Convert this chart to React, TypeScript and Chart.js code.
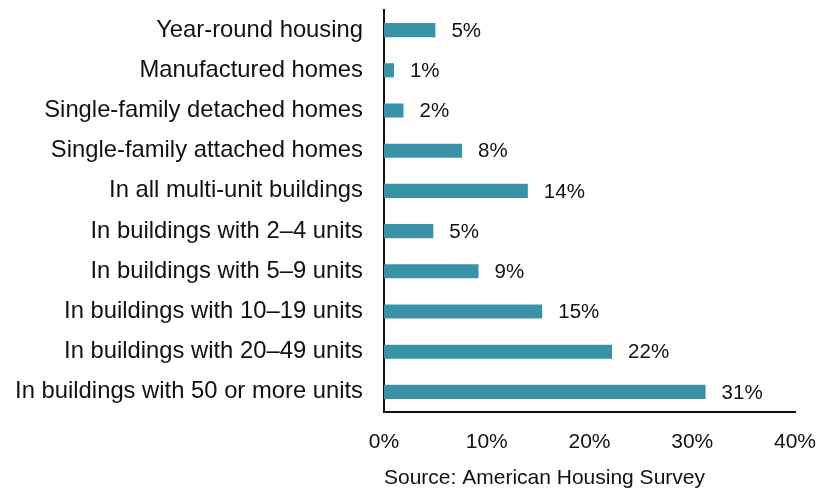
import React, { useEffect, useRef } from "react";
import { Chart, registerables } from "chart.js";

Chart.register(...registerables);

const categories = [
  "Year-round housing",
  "Manufactured homes",
  "Single-family detached homes",
  "Single-family attached homes",
  "In all multi-unit buildings",
  "In buildings with 2–4 units",
  "In buildings with 5–9 units",
  "In buildings with 10–19 units",
  "In buildings with 20–49 units",
  "In buildings with 50 or more units",
];

const values = [5.0, 0.97, 1.9, 7.6, 14.0, 4.8, 9.2, 15.4, 22.2, 31.3];
const valueLabels = ["5%", "1%", "2%", "8%", "14%", "5%", "9%", "15%", "22%", "31%"];
const xTicks = [0, 10, 20, 30, 40];
const sourceText = "Source: American Housing Survey";

const FONT = "'Liberation Sans', Arial, Helvetica, sans-serif";

const valueLabelPlugin = {
  id: "valueLabels",
  afterDatasetsDraw(chart: any) {
    const ctx = chart.ctx;
    const meta = chart.getDatasetMeta(0);
    ctx.save();
    ctx.font = `20.5px ${FONT}`;
    ctx.fillStyle = "#111";
    ctx.textAlign = "left";
    ctx.textBaseline = "middle";
    meta.data.forEach((bar: any, i: number) => {
      ctx.fillText(valueLabels[i], bar.x + 16, bar.y + 1);
    });
    ctx.restore();
  },
};

export default function App() {
  const ref = useRef<HTMLCanvasElement | null>(null);
  useEffect(() => {
    if (!ref.current) return;
    const chart = new Chart(ref.current, {
      type: "bar",
      data: {
        labels: categories,
        datasets: [
          {
            data: values,
            backgroundColor: "#3a92a8",
            borderWidth: 0,
            barPercentage: 0.35,
            categoryPercentage: 1,
          },
        ],
      },
      options: {
        indexAxis: "y",
        animation: false,
        responsive: false,
        maintainAspectRatio: false,
        layout: { padding: { top: 10, right: 26, bottom: 0, left: 0 } },
        plugins: {
          legend: { display: false },
          tooltip: { enabled: false },
        },
        scales: {
          x: {
            min: 0,
            max: 40,
            afterBuildTicks(scale: any) {
              scale.ticks = xTicks.map((v) => ({ value: v }));
            },
            afterFit(scale: any) {
              scale.height = 78;
              scale.paddingLeft = 0;
              scale.paddingRight = 0;
            },
            grid: { display: false, drawTicks: false },
            border: { display: true, color: "#111", width: 2 },
            ticks: {
              padding: 18,
              color: "#111",
              font: { family: FONT, size: 21 },
              callback: (v: any) => `${v}%`,
            },
            title: {
              display: true,
              text: sourceText,
              align: "start",
              color: "#111",
              font: { family: FONT, size: 21, lineHeight: 1.2 },
              padding: { top: 0, bottom: -1 },
            },
          },
          y: {
            afterFit(scale: any) {
              scale.width = 384;
              scale.paddingTop = 0;
              scale.paddingBottom = 0;
            },
            grid: { display: false, drawTicks: false },
            border: { display: true, color: "#111", width: 2 },
            ticks: {
              padding: 21,
              color: "#111",
              font: { family: FONT, size: 23.8 },
            },
          },
        },
      },
      plugins: [valueLabelPlugin],
    });
    return () => chart.destroy();
  }, []);
  return (
    <div style={{ position: "fixed", left: 0, top: 0, width: 821, height: 490, background: "#fff" }}>
      <canvas ref={ref} width={821} height={490} style={{ width: 821, height: 490 }} />
    </div>
  );
}
